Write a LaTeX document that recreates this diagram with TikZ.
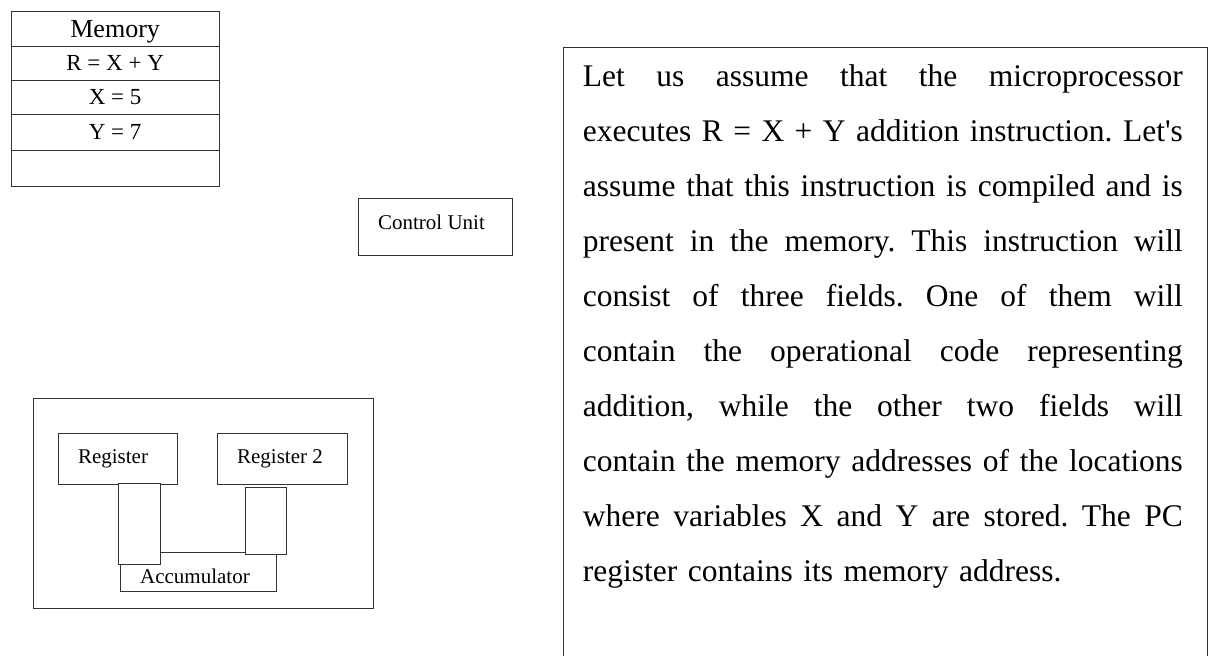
\documentclass[tikz,border=0pt]{standalone}
\usepackage{fontspec}
\setmainfont{Liberation Serif}
% family without TeX ligature mapping, so the apostrophe stays straight
\newfontfamily\plainserif{Liberation Serif}
% one fully justified line of the explanatory paragraph
\newcommand\justline[1]{\leavevmode\hbox to 600pt{\frenchspacing\spaceskip=0.25em plus 1fill\relax#1}}
\begin{document}
\begin{tikzpicture}[x=1pt,y=-1pt,
  outline/.style={draw=black!80, line width=1pt, inner sep=0pt, fill=white},
  cell/.style={outline, minimum width=208.3pt, text depth=0pt,
    font=\fontsize{23}{27}\selectfont},
  tag/.style={inner sep=0pt, text depth=0pt, font=\fontsize{21}{25}\selectfont},
]
\clip (0,0) rectangle (1211,656);

% memory table
\node[cell, minimum height=34.3pt, font=\fontsize{26}{30}\selectfont] (memhead) at (115.15,28.85) {Memory};
\node[cell, minimum height=34pt]   (memr) at (115.15,63)     {R = X + Y};
\node[cell, minimum height=34.3pt] (memx) at (115.15,97.15)  {X = 5};
\node[cell, minimum height=35.7pt] (memy) at (115.15,132.15) {Y = 7};
\node[cell, minimum height=36.7pt] (memfree) at (115.15,168.35) {};

% control unit
\node[outline, minimum width=154pt, minimum height=57pt] (cu) at (435,226.5) {};
\node[tag] (cutext) at (431.5,222) {Control Unit};

% register block
\node[outline, minimum width=340pt, minimum height=210pt] (alu) at (203,503) {};
\node[outline, minimum width=119pt, minimum height=51pt] (reg1) at (117.5,458.5) {};
\node[tag] (reg1text) at (113,457) {Register};
\node[outline, minimum width=130pt, minimum height=51pt] (reg2) at (282,458.5) {};
\node[tag] (reg2text) at (280,457) {Register 2};
\node[outline, minimum width=156pt, minimum height=39pt] (acc) at (198,571.5) {};
\node[outline, minimum width=42pt, minimum height=81pt] (bus1) at (139,523.5) {};
\node[outline, minimum width=41pt, minimum height=67pt] (bus2) at (265.5,520.5) {};
\node[tag] (acctext) at (195,576) {Accumulator};

% explanatory text
\node[outline, anchor=north west, minimum width=644.3pt, minimum height=700pt] (note) at (563,46.7) {};
\node[inner sep=0pt, anchor=base west, text width=600pt, align=left,
      font=\plainserif\fontsize{31.5}{55}\selectfont] (notetext) at (582.7,86.7)
{\justline{Let us assume that the microprocessor}\\
 \justline{executes R = X + Y addition instruction. Let's}\\
 \justline{assume that this instruction is compiled and is}\\
 \justline{present in the memory. This instruction will}\\
 \justline{consist of three fields. One of them will}\\
 \justline{contain the operational code representing}\\
 \justline{addition, while the other two fields will}\\
 \justline{contain the memory addresses of the locations}\\
 \justline{where variables X and Y are stored. The PC}\\
 register contains its memory address.};
\end{tikzpicture}
\end{document}
